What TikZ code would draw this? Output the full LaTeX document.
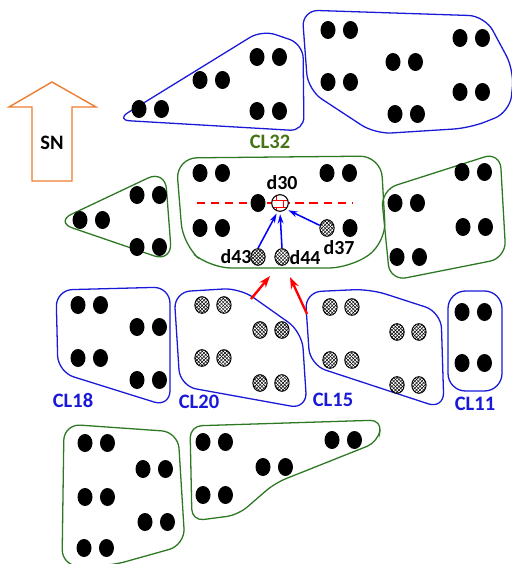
\documentclass[tikz,border=0pt]{standalone}
\usepackage{fontspec}
\setmainfont{Carlito}
\usepackage{tikz}
\usetikzlibrary{arrows.meta, positioning, shapes.geometric, patterns}

\definecolor{clblue}{RGB}{25,25,215}
\definecolor{clgreen}{RGB}{45,120,35}
\definecolor{lblgreen}{RGB}{70,115,20}
\definecolor{snorange}{RGB}{237,125,49}

\begin{document}
\begin{tikzpicture}[
  x=0.03cm, y=-0.03cm,
  dot/.style={ellipse, fill=black, minimum width=0.45cm, minimum height=0.54cm, inner sep=0pt},
  hdot/.style={ellipse, draw=black, line width=0.8pt, preaction={fill=white}, pattern=crosshatch,
    minimum width=0.43cm, minimum height=0.5cm, inner sep=0pt},
  blueset/.style={draw=clblue, line width=1.1pt, rounded corners=14pt},
  greenset/.style={draw=clgreen, line width=1.1pt, rounded corners=14pt},
  lbl/.style={font=\fontsize{17.5}{17}\selectfont\bfseries},
  dlbl/.style={font=\fontsize{17}{17}\selectfont\bfseries},
  barrow/.style={-{Stealth[length=8pt, width=5pt]}, blue, line width=1.3pt},
  rarrow/.style={-{Stealth[length=10pt, width=7pt]}, red, line width=2pt},
]
\useasboundingbox (0,0) rectangle (512,564);

% two dots side by side
\def\pair#1#2#3{%
  \node[dot] (#1a) at (#2,#3) {};
  \node[dot, right=0.21cm of #1a] (#1b) {};
}
\def\hpair#1#2#3{%
  \node[hdot] (#1a) at (#2,#3) {};
  \node[hdot, right=0.2cm of #1a] (#1b) {};
}

% --- SN arrow ---
\draw[snorange, line width=1.2pt] (52,82) -- (96,107) -- (72,107) -- (72,181)
  -- (32,181) -- (32,107) -- (9,107) -- cycle;
\node[lbl] (sn) at (52,143) {SN};

% --- Top row ---
\draw[blueset, rounded corners=12pt] (116,120) -- (262,30) -- (303,44) -- (304,131) -- cycle;
\pair{tl1}{139}{109}
\pair{tl2}{200}{80}
\pair{tl3}{257}{57}
\pair{tl4}{257}{111}

\draw[blueset] (302,10) -- (485,16) -- (514,70) -- (510,112) -- (470,128)
  -- (375,134) -- (308,90) -- cycle;
\pair{tr1}{328}{30}
\pair{tr2}{328}{82}
\pair{tr3}{393}{62}
\pair{tr4}{460}{38}
\pair{tr5}{460}{92}
\pair{tr6}{395}{114}

\node[lbl, text=lblgreen] (cl32) at (270,142) {CL32};

% --- Middle row ---
\draw[greenset, rounded corners=16pt] (55,222) -- (165,170) -- (172,262) -- cycle;
\pair{lm1}{80}{220}
\pair{lm2}{137}{195}
\pair{lm3}{137}{247}

\draw[greenset, rounded corners=18pt] (176,158) -- (381,156) -- (386,243) -- (350,268)
  -- (210,268) -- (183,245) -- cycle;
\pair{ct1}{200}{173}
\pair{ct2}{327}{173}
\pair{ct3}{200}{228}
\coordinate (cutL) at (197,203);
\coordinate (cutR) at (353,203);
\draw[red, line width=1.1pt, dash pattern=on 7pt off 5pt] (cutL) -- (cutR);
\node[dot] (ct4) at (258,203) {};
\node[circle, draw=black, line width=0.9pt, preaction={fill=white}, pattern=bricks,
  pattern color=red, minimum size=0.5cm, inner sep=0pt] (d30) at (280,203) {};
\node[dot] (ct5) at (350,228) {};
\node[hdot] (d37) at (327,228) {};
\node[hdot] (d43) at (258,257) {};
\node[hdot] (d44) at (282,257) {};
\node[dlbl] at (282,183) {d30};
\node[dlbl] at (236,257) {d43};
\node[dlbl] at (305,258) {d44};
\node[dlbl] at (339,248) {d37};
\draw[barrow, shorten >=2pt] (d43.north) -- (d30.-105);
\draw[barrow, shorten >=2pt] (d44.north) -- (d30.south);
\draw[barrow, shorten >=2pt] (d37.160) -- (d30.-45);

\draw[greenset] (381,190) -- (500,152) -- (506,258) -- (390,281) -- cycle;
\pair{rm1}{462}{172}
\pair{rm2}{395}{203}
\pair{rm3}{463}{227}
\pair{rm4}{397}{257}

% --- Lower row ---
\draw[blueset] (56,290) -- (170,287) -- (170,407) -- (58,372) -- cycle;
\pair{e1}{78}{305}
\pair{e2}{137}{327}
\pair{e3}{78}{358}
\pair{e4}{137}{380}
\node[lbl, text=clblue] (cl18) at (73,400) {CL18};

\draw[blueset] (174,292) -- (240,288) -- (302,332) -- (307,409) -- (180,386) -- cycle;
\hpair{f1}{202}{305}
\hpair{f2}{260}{330}
\hpair{f3}{202}{358}
\hpair{f4}{260}{383}
\node[lbl, text=clblue] (cl20) at (199,402) {CL20};

\draw[blueset] (305,292) -- (370,289) -- (441,312) -- (444,409) -- (310,365) -- cycle;
\hpair{g1}{330}{307}
\hpair{g2}{397}{332}
\hpair{g3}{330}{360}
\hpair{g4}{397}{385}
\node[lbl, text=clblue] (cl15) at (333,400) {CL15};

\draw[blueset, rounded corners=15pt] (448,291) rectangle (502,391);
\pair{h1}{462}{312}
\pair{h2}{462}{363}
\node[lbl, text=clblue] (cl11) at (475,404) {CL11};

% red arrows into the middle set
\coordinate (f20) at (251,299);
\coordinate (ctb1) at (270,276);
\coordinate (g15) at (307,314);
\coordinate (ctb2) at (290,277);
\draw[rarrow] (f20) -- (ctb1);
\draw[rarrow] (g15) -- (ctb2);

% --- Bottom row ---
\draw[greenset] (64,424) -- (178,432) -- (185,545) -- (110,566) -- (62,566) -- cycle;
\pair{bl1}{85}{443}
\pair{bl2}{143}{469}
\pair{bl3}{85}{497}
\pair{bl4}{145}{522}
\pair{bl5}{84}{548}

\draw[greenset, rounded corners=10pt] (190,426) -- (382,420) -- (378,442) -- (275,483)
  -- (238,515) -- (192,521) -- cycle;
\pair{br1}{203}{442}
\pair{br2}{263}{467}
\pair{br3}{332}{440}
\pair{br4}{203}{495}

\end{tikzpicture}
\end{document}
